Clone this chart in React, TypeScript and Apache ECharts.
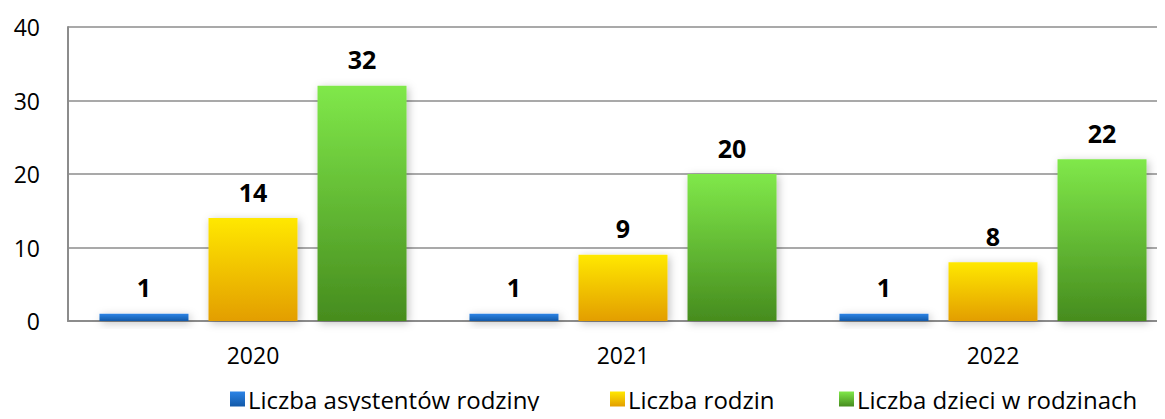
import React, { useEffect, useRef } from "react";
import * as echarts from "echarts";

const categories = ["2020", "2021", "2022"];
const seriesNames = ["Liczba asystentów rodziny", "Liczba rodzin", "Liczba dzieci w rodzinach"];
const asystenci = [1, 1, 1];
const rodziny = [14, 9, 8];
const dzieci = [32, 20, 22];
const legendLefts = [230, 610, 839];

const grad = (top: string, bottom: string) =>
  new echarts.graphic.LinearGradient(0, 0, 0, 1, [
    { offset: 0, color: top },
    { offset: 1, color: bottom },
  ]);

const FONT = "'Open Sans', 'Noto Sans', sans-serif";

export default function App() {
  const ref = useRef<HTMLDivElement>(null);
  useEffect(() => {
    if (!ref.current) return;
    const chart = echarts.init(ref.current, undefined, { renderer: "svg" });
    const colors = [
      ["#2c84e6", "#1259a8"],
      ["#ffe800", "#e39e00"],
      ["#80e84a", "#468c1e"],
    ];
    const datas = [asystenci, rodziny, dzieci];
    chart.setOption({
      animation: false,
      textStyle: { fontFamily: FONT },
      grid: { left: 68, right: 0, top: 27, bottom: 98, containLabel: false },
      legend: seriesNames.map((name, i) => ({
        top: 387,
        left: legendLefts[i],
        padding: 0,
        itemWidth: 15,
        itemHeight: 15,
        icon: "rect",
        textStyle: { fontSize: 24, color: "#000", fontFamily: FONT, padding: [0, 0, 0, -2] },
        data: [name],
      })),
      xAxis: {
        type: "category",
        data: categories,
        axisTick: { show: false },
        axisLine: { lineStyle: { color: "#8c8c8c", width: 2 } },
        axisLabel: { fontSize: 23, color: "#000", margin: 22, fontFamily: FONT },
      },
      yAxis: {
        type: "value",
        min: 0,
        max: 40,
        interval: 10,
        axisLine: { show: true, lineStyle: { color: "#8c8c8c", width: 2 } },
        axisTick: { show: false },
        splitLine: { lineStyle: { color: "#8c8c8c", width: 1.5 } },
        axisLabel: { fontSize: 23, color: "#000", margin: 28, fontFamily: FONT },
      },
      series: seriesNames.map((name, i) => ({
        name,
        type: "bar",
        data: datas[i],
        barWidth: 89,
        barGap: "22.5%",
        itemStyle: {
          color: grad(colors[i][0], colors[i][1]),
          shadowColor: "rgba(0,0,0,0.25)",
          shadowBlur: 8,
          shadowOffsetX: 2,
          shadowOffsetY: 2,
        },
        label: {
          show: true,
          position: "top",
          distance: 14,
          fontSize: 25,
          fontWeight: "bold",
          color: "#000",
          fontFamily: FONT,
        },
      })),
    });
    return () => chart.dispose();
  }, []);
  return (
    <div style={{ width: 1165, height: 419, margin: -8, overflow: "hidden", position: "relative" }}>
      <div ref={ref} style={{ width: 1178, height: 419 }} />
    </div>
  );
}
